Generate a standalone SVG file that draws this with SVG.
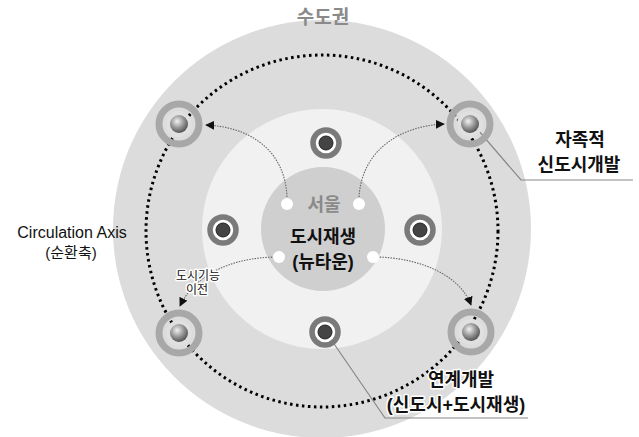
<svg xmlns="http://www.w3.org/2000/svg" width="639" height="437" viewBox="0 0 639 437">
<style>
.t{font-family:"Liberation Sans","Noto Sans CJK KR",sans-serif;text-anchor:middle}
.b{font-weight:bold;font-size:18px;fill:#111}
.halo{stroke:#fff;stroke-width:3;paint-order:stroke;stroke-linejoin:round}
.flow{fill:none;stroke:#666;stroke-width:1.1;stroke-dasharray:1.5 1.2}
.lead{fill:none;stroke:#888;stroke-width:1.2}
</style>
<defs>
<radialGradient id="sph" cx="0.4" cy="0.35" r="0.7">
<stop offset="0" stop-color="#f2f2f2"/>
<stop offset="0.5" stop-color="#9a9a9a"/>
<stop offset="1" stop-color="#4a4a4a"/>
</radialGradient>
<marker id="ah" viewBox="0 0 10 10" refX="9" refY="5" markerWidth="9" markerHeight="9" markerUnits="userSpaceOnUse" orient="auto">
<path d="M0,0L10,5L0,10z" fill="#111"/>
</marker>
</defs>
<rect width="639" height="437" fill="#fff"/>
<g id="regions">
<circle cx="322" cy="229" r="209" fill="#dcdcdc"/>
<circle cx="322" cy="229" r="120" fill="#f1f1f1"/>
<circle cx="323" cy="229" r="62" fill="#cfcfcf"/>
<circle cx="322" cy="231" r="176" fill="none" stroke="#000" stroke-width="3" stroke-dasharray="2.5 3.5"/>
</g>
<g id="connectors">
<path class="flow" d="M287,197 C285,150 250,127 206,125" marker-end="url(#ah)"/>
<path class="flow" d="M359,197 C362,150 400,126 444,124" marker-end="url(#ah)"/>
<path class="flow" d="M275,257 C230,258 195,275 180,306" marker-end="url(#ah)"/>
<path class="flow" d="M377,257 C420,258 460,275 471,305" marker-end="url(#ah)"/>
<path class="lead" d="M478,130 L521,180 L633,180"/>
<path class="lead" d="M330,338 L385,418 L528,418"/>
</g>
<g id="outer-nodes">
<g id="node-nw"><circle cx="179" cy="124" r="20" fill="none" stroke="#a8a8a8" stroke-width="7"/><circle cx="179" cy="124" r="13" fill="#e0e0e0"/><circle cx="179" cy="124" r="9" fill="url(#sph)"/></g>
<g id="node-ne"><circle cx="470" cy="124" r="20" fill="none" stroke="#a8a8a8" stroke-width="7"/><circle cx="470" cy="124" r="13" fill="#e0e0e0"/><circle cx="470" cy="124" r="9" fill="url(#sph)"/></g>
<g id="node-sw"><circle cx="179" cy="333" r="20" fill="none" stroke="#a8a8a8" stroke-width="7"/><circle cx="179" cy="333" r="13" fill="#e0e0e0"/><circle cx="179" cy="333" r="9" fill="url(#sph)"/></g>
<g id="node-se"><circle cx="471" cy="332" r="20" fill="none" stroke="#a8a8a8" stroke-width="7"/><circle cx="471" cy="332" r="13" fill="#e0e0e0"/><circle cx="471" cy="332" r="9" fill="url(#sph)"/></g>
</g>
<g id="inner-nodes">
<g id="node-n"><circle cx="326" cy="143" r="13" fill="#fff" stroke="#7a7a7a" stroke-width="5.5"/><circle cx="326" cy="143" r="7" fill="#444" stroke="#222" stroke-width="1"/></g>
<g id="node-w"><circle cx="223" cy="230" r="13" fill="#fff" stroke="#7a7a7a" stroke-width="5.5"/><circle cx="223" cy="230" r="7" fill="#444" stroke="#222" stroke-width="1"/></g>
<g id="node-e"><circle cx="420" cy="230" r="13" fill="#fff" stroke="#7a7a7a" stroke-width="5.5"/><circle cx="420" cy="230" r="7" fill="#444" stroke="#222" stroke-width="1"/></g>
<g id="node-s"><circle cx="325" cy="332" r="13" fill="#fff" stroke="#7a7a7a" stroke-width="5.5"/><circle cx="325" cy="332" r="7" fill="#444" stroke="#222" stroke-width="1"/></g>
</g>
<g id="center">
<circle cx="287" cy="204" r="6" fill="#fff"/>
<circle cx="359" cy="204" r="6" fill="#fff"/>
<circle cx="279" cy="257" r="6" fill="#fff"/>
<circle cx="373" cy="257" r="6" fill="#fff"/>
<text class="t" x="324" y="211" font-size="18" font-weight="bold" fill="#8a8a8a">서울</text>
<text class="t b" x="323" y="243" font-size="19">도시재생</text>
<text class="t b" x="323" y="268" font-size="19">(뉴타운)</text>
</g>
<g id="labels">
<text class="t" x="323" y="24" font-size="19" font-weight="bold" fill="#8a8a8a">수도권</text>
<text class="t b" x="580" y="146">자족적</text>
<text class="t b" x="579" y="171">신도시개발</text>
<text class="t" x="72" y="238" font-size="16" fill="#111">Circulation Axis</text>
<text class="t" x="71" y="258" font-size="15" fill="#111">(순환축)</text>
<text class="t halo" x="198" y="280" font-size="12" fill="#111">도시기능</text>
<text class="t halo" x="197" y="294" font-size="12" fill="#111">이전</text>
<text class="t b halo" x="461" y="386">연계개발</text>
<text class="t b halo" x="456" y="411">(신도시+도시재생)</text>
</g>
</svg>
